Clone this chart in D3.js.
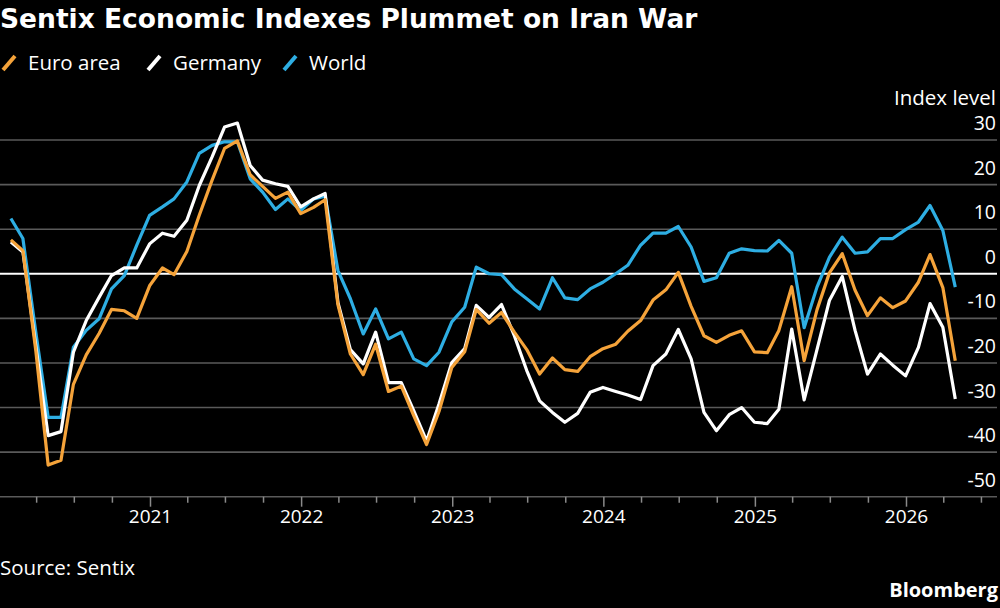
<!DOCTYPE html>
<html><head><meta charset="utf-8">
<script src="https://cdn.jsdelivr.net/npm/d3@7"></script>
<style>html,body{margin:0;padding:0;background:#000;} svg{display:block;}</style>
</head><body>
<svg id="chart" width="1000" height="608"></svg>
<script>
// ---- data: monthly Sentix overall index, Jan 2020 .. Apr 2026 ----
const startYear = 2020, startMonthIndex = 0; // January 2020
const euroArea = [
  7.6, 5.2, -17.1, -42.9, -41.8, -24.8, -18.2, -13.4, -8.0, -8.3, -10.0, -2.7,
  1.3, -0.2, 5.0, 13.1, 21.0, 28.1, 29.8, 22.2, 19.6, 16.9, 18.3, 13.5,
  14.9, 16.6, -7.0, -18.0, -22.6, -15.8, -26.4, -25.2, -31.8, -38.3, -30.9, -21.0,
  -17.5, -8.0, -11.1, -8.7, -13.1, -17.0, -22.5, -18.9, -21.5, -21.9, -18.6, -16.8,
  -15.8, -12.9, -10.5, -5.9, -3.6, 0.3, -7.3, -13.9, -15.4, -13.8, -12.8, -17.5,
  -17.7, -12.7, -2.9, -19.5, -8.1, 0.2, 4.5, -3.7, -9.4, -5.4, -7.6, -6.1,
  -1.9, 4.3, -3.1, -19.5
];
const germany = [
  7.1, 4.9, -16.0, -36.3, -35.4, -17.6, -10.5, -5.3, -0.4, 1.3, 1.3, 6.7,
  9.1, 8.4, 12.0, 19.8, 26.2, 32.9, 33.8, 24.3, 21.0, 20.2, 19.6, 15.0,
  16.8, 18.0, -6.5, -17.0, -20.2, -13.1, -24.4, -24.4, -30.7, -37.5, -29.2, -19.9,
  -16.8, -7.1, -9.8, -6.9, -13.9, -21.7, -28.5, -31.1, -33.3, -31.3, -26.6, -25.5,
  -26.4, -27.2, -28.2, -20.6, -18.0, -12.5, -19.1, -31.1, -35.2, -31.6, -30.0, -33.3,
  -33.6, -30.4, -12.4, -28.3, -17.0, -6.0, -0.6, -12.7, -22.5, -18.0, -20.5, -22.9,
  -16.5, -6.7, -12.0, -28.1
];
const world = [
  12.4, 7.9, -13.0, -32.2, -32.2, -16.5, -12.7, -10.1, -3.4, -0.4, 6.4, 13.1,
  15.0, 16.8, 20.6, 27.0, 28.8, 29.6, 29.6, 21.3, 18.3, 14.4, 16.8, 14.2,
  16.8, 17.4, 0.7, -5.6, -13.5, -7.9, -14.6, -13.1, -19.1, -20.6, -17.6, -10.8,
  -7.5, 1.5, 0.0, -0.2, -3.4, -5.6, -7.9, -0.9, -5.4, -5.8, -3.4, -1.9,
  0.0, 1.9, 6.4, 9.1, 9.1, 10.6, 6.0, -1.7, -0.9, 4.6, 5.6, 5.2,
  5.1, 7.5, 4.6, -12.1, -3.0, 3.7, 8.2, 4.6, 4.9, 7.9, 7.9, 9.9,
  11.6, 15.3, 9.7, -3.0
];
const seriesNames = ["Euro area", "Germany", "World"];
const seriesColors = ["#f5a33a", "#ffffff", "#2eaee3"];
const yTickValues = [30, 20, 10, 0, -10, -20, -30, -40, -50];
const yearLabels = [2021, 2022, 2023, 2024, 2025, 2026];
const titleText = "Sentix Economic Indexes Plummet on Iran War";
const unitText = "Index level";
const sourceText = "Source: Sentix";
const brandText = "Bloomberg";

// ---- setup ----
const svg = d3.select("#chart");
const W = 1000, H = 608;
svg.append("rect").attr("width", W).attr("height", H).attr("fill", "#000");

const FONT = "'Open Sans', 'Noto Sans', sans-serif";
const TITLE_FONT = "'DejaVu Sans', 'Open Sans', sans-serif";

const x = d3.scaleUtc()
  .domain([new Date(Date.UTC(2021, 0, 1)), new Date(Date.UTC(2026, 0, 1))])
  .range([150, 906]);
const y = d3.scaleLinear().domain([-50, 30]).range([496.7, 140]);

const plotLeft = 0, plotRight = 997;

// month end date for each observation
function obsDate(i) {
  const m = new Date(Date.UTC(startYear, startMonthIndex + i + 1, 1));
  return d3.utcDay.offset(m, -1);
}

// ---- title & legend ----
svg.append("text").attr("x", 0).attr("y", 28)
  .attr("fill", "#fff").attr("font-family", TITLE_FONT).attr("font-weight", 700)
  .attr("font-size", 26.5).text(titleText);

const legendX = [2, 147, 283];
const legend = svg.append("g");
seriesNames.forEach((name, i) => {
  const g = legend.append("g").attr("transform", `translate(${legendX[i]},0)`);
  g.append("line").attr("x1", 1).attr("y1", 70).attr("x2", 13).attr("y2", 56)
    .attr("stroke", seriesColors[i]).attr("stroke-width", 4);
  g.append("text").attr("x", 26).attr("y", 70)
    .attr("fill", "#fff").attr("font-family", FONT).attr("font-size", 20.5).text(name);
});

// ---- gridlines + y labels ----
const grid = svg.append("g");
yTickValues.forEach(v => {
  grid.append("line")
    .attr("x1", plotLeft).attr("x2", plotRight)
    .attr("y1", y(v)).attr("y2", y(v))
    .attr("stroke", v === 0 ? "#ffffff" : "#5a5a5a")
    .attr("stroke-width", v === 0 ? 2 : 1.6);
  grid.append("text")
    .attr("x", 996).attr("y", y(v) - 10)
    .attr("text-anchor", "end").attr("fill", "#fff")
    .attr("font-family", FONT).attr("font-size", 19.5)
    .text(v);
});
svg.append("text").attr("x", 996).attr("y", 105).attr("text-anchor", "end")
  .attr("fill", "#fff").attr("font-family", FONT).attr("font-size", 20.5).text(unitText);

// ---- x axis ----
const quarterTicks = d3.utcMonth.every(3).range(new Date(Date.UTC(2020, 3, 1)), new Date(Date.UTC(2026, 7, 1)));
const xAxis = d3.axisBottom(x).tickValues(quarterTicks).tickSizeOuter(0)
  .tickFormat(d => d.getUTCMonth() === 0 && yearLabels.includes(d.getUTCFullYear()) ? String(d.getUTCFullYear()) : "");
const ax = svg.append("g").attr("transform", `translate(0,${y(-50)})`).call(xAxis);
ax.select(".domain").remove();
ax.selectAll(".tick line")
  .attr("stroke", "#8a8a8a").attr("stroke-width", 1.5)
  .attr("y2", d => d.getUTCMonth() === 0 ? 10 : 6);
ax.selectAll(".tick text")
  .attr("fill", "#fff").attr("font-family", FONT).attr("font-size", 19)
  .attr("y", 13).attr("dy", "0.71em");

// ---- lines ----
const seriesData = [euroArea, germany, world].map((arr, k) => ({
  name: seriesNames[k], color: seriesColors[k],
  values: arr.map((v, i) => ({ date: obsDate(i), v }))
}));
const line = d3.line().x(d => x(d.date)).y(d => y(d.v));
const drawOrder = [2, 1, 0];
drawOrder.forEach(k => {
  svg.append("path").datum(seriesData[k].values)
    .attr("d", line).attr("fill", "none")
    .attr("stroke", seriesData[k].color).attr("stroke-width", 3.2)
    .attr("stroke-linejoin", "round").attr("stroke-linecap", "butt");
});

// ---- footer ----
svg.append("text").attr("x", 0).attr("y", 575)
  .attr("fill", "#fff").attr("font-family", FONT).attr("font-size", 20.5).text(sourceText);
svg.append("text").attr("x", 998).attr("y", 597).attr("text-anchor", "end")
  .attr("fill", "#fff").attr("font-family", FONT).attr("font-weight", 700)
  .attr("font-size", 20).text(brandText);
</script>
</body></html>
